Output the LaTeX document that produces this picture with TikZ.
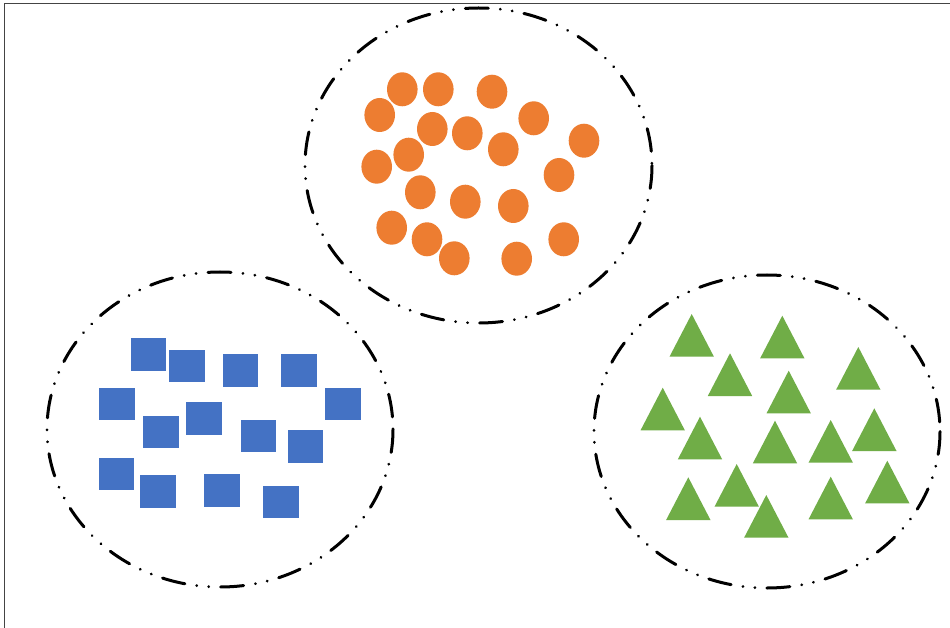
\documentclass[tikz,border=0pt]{standalone}
\usetikzlibrary{shapes.geometric}
\definecolor{dotorange}{HTML}{ED7D31}
\definecolor{sqblue}{HTML}{4472C4}
\definecolor{trigreen}{HTML}{70AD47}
\definecolor{frameline}{HTML}{444444}
\tikzset{
  cluster/.style={draw=black, line width=3pt, line cap=round,
    dash pattern=on 23pt off 12pt on 0.01pt off 12pt on 0.01pt off 12pt},
  dotitem/.style={fill=dotorange},
  sqitem/.style={fill=sqblue, draw=white, line width=0.5pt},
  triitem/.style={fill=trigreen},
  frame/.style={draw=frameline, line width=1pt}
}
\begin{document}
\begin{tikzpicture}[x=1pt,y=-1pt]
\useasboundingbox (0,0) rectangle (950,628);
\fill[white] (0,0) rectangle (950,628);
\draw[frame] (950,3.5) -- (4.5,3.5) -- (4.5,628);
% clusters
\draw[cluster] (478.5,165.5) ellipse [x radius=173.5, y radius=157.5];
\draw[cluster] (220,429.5) ellipse [x radius=173, y radius=157.5];
\draw[cluster] (767,431.5) ellipse [x radius=173, y radius=156.5];
% orange circles
\foreach \x/\y in {402.3/89.3, 438.3/89.3, 492/91.7, 379.7/115, 533.7/118.3,
  432.3/129, 467.3/133.3, 584/140.7, 408.7/154.7, 503.3/149.3, 376.7/166.7,
  559/175, 420.3/192.3, 465.3/201.7, 513.3/206, 391.7/227.7, 427/239.3,
  563.7/239.3, 454.3/258.3, 516.7/258.7}
  \fill[dotitem] (\x,\y) ellipse [x radius=15.3, y radius=17];
% blue squares
\foreach \x/\y in {130/337.7, 168.3/349.3, 222/353.7, 280.7/353.7, 98.7/387,
  324.7/387, 142.7/415, 185.7/401.7, 240/419, 287/429.7, 98/457.3,
  139.3/474.7, 203.7/473.7, 262.7/485.3}
  \path[sqitem] (\x,\y) rectangle ++(36.7,33.3);
% green triangles (apex x, apex y)
\foreach \x/\y in {691.7/314, 782.3/315.7, 730/353.3, 858.3/347, 788.7/370.7,
  662.7/387.7, 700/416.7, 775/420.7, 830.7/420, 874.3/408.3, 736.7/464,
  688.3/477.3, 766.3/495, 830.7/476.7, 887.3/460.7}
  \fill[triitem] (\x,\y) -- ++(22.2,42.7) -- ++(-44.4,0) -- cycle;
\end{tikzpicture}
\end{document}
